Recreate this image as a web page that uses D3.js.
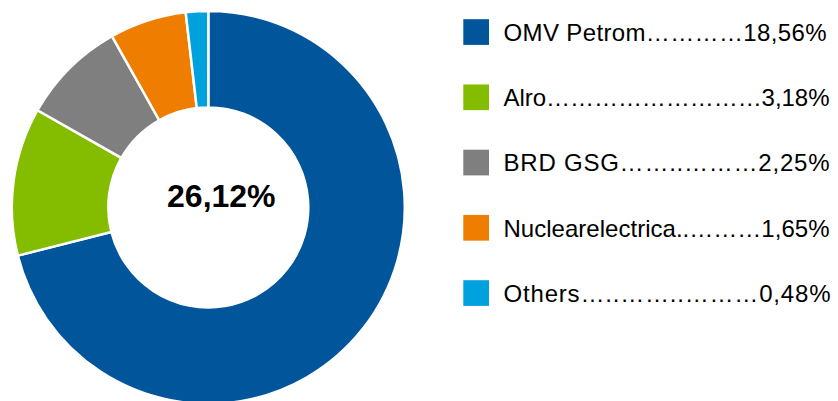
<!DOCTYPE html>
<html>
<head>
<meta charset="utf-8">
<script src="https://cdn.jsdelivr.net/npm/d3@7"></script>
<style>
  html, body { margin: 0; padding: 0; background: #fff; }
  svg { display: block; }
</style>
</head>
<body>
<div id="chart"></div>
<script>
var svgWidth = 838;
var svgHeight = 401;

// shares of the index, in %
var companies = ["OMV Petrom", "Alro", "BRD GSG", "Nuclearelectrica", "Others"];
var shares = [18.56, 3.18, 2.25, 1.65, 0.48];
var legendLabels = [
  "OMV Petrom…………18,56%",
  "Alro………………………3,18%",
  "BRD GSG……..………2,25%",
  "Nuclearelectrica..………1,65%",
  "Others…..……..………0,48%"
];
var colors = ["#00559B", "#84BC00", "#7F7F7F", "#EE7D00", "#00A2DE"];

var center = {x: 208.3, y: 207.4};
var outerR = 196.5, innerR = 100;

var svg = d3.select("#chart")
            .append("svg")
            .attr("width", svgWidth)
            .attr("height", svgHeight);

var color = d3.scaleOrdinal().domain(companies).range(colors);

var pie = d3.pie().sort(null).value(d => d);
var arc = d3.arc().innerRadius(innerR).outerRadius(outerR);

var donut = svg.append("g").attr("transform", `translate(${center.x}, ${center.y})`);

donut.selectAll("path")
     .data(pie(shares))
     .enter()
     .append("path")
     .attr("d", arc)
     .attr("fill", (d, i) => color(companies[i]))
     .attr("stroke", "#fff")
     .attr("stroke-width", 2.5);

var total = d3.sum(shares);
donut.append("text")
     .attr("x", 13)
     .attr("y", -0.7)
     .attr("text-anchor", "middle")
     .style("font-family", "'Liberation Sans', Arial, sans-serif")
     .style("font-weight", "bold")
     .style("font-size", "32px")
     .attr("fill", "#000")
     .text(d3.format(".2f")(total).replace(".", ",") + "%");

// legend
var legendY = d3.scalePoint().domain(companies).range([32, 293]);
var textWidths = [323, 326, 326, 326, 327];

var rows = svg.append("g").selectAll("g")
              .data(companies)
              .enter()
              .append("g")
              .attr("transform", d => `translate(0, ${legendY(d)})`);

rows.append("rect")
    .attr("x", 463.3)
    .attr("y", -12.8)
    .attr("width", 25.7)
    .attr("height", 25.7)
    .attr("fill", d => color(d));

rows.append("text")
    .attr("x", 503.5)
    .attr("y", 8.8)
    .attr("textLength", (d, i) => textWidths[i])
    .attr("lengthAdjust", "spacing")
    .style("font-family", "'Liberation Sans', Arial, sans-serif")
    .style("font-size", "24px")
    .attr("fill", "#000")
    .text((d, i) => legendLabels[i]);
</script>
</body>
</html>
